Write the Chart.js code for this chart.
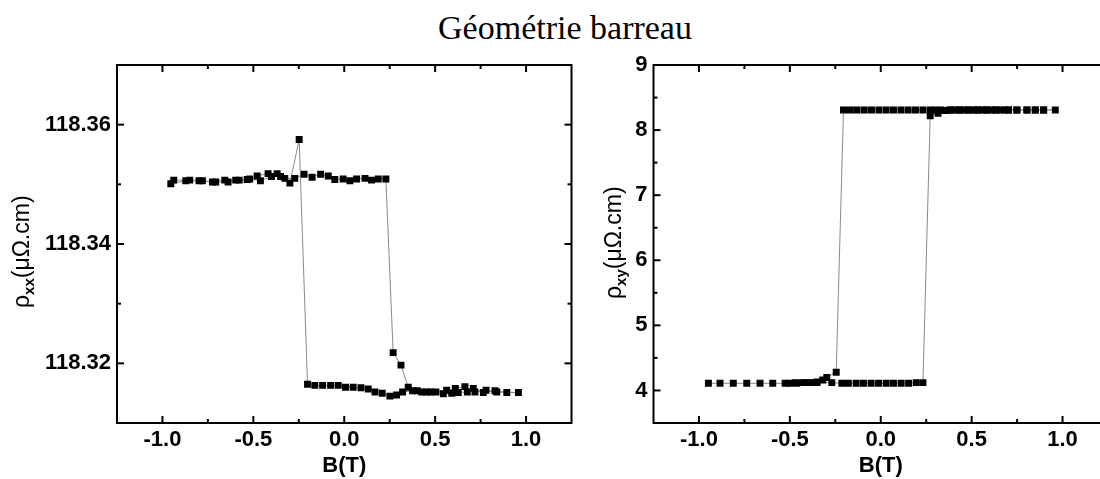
<!DOCTYPE html>
<html>
<head>
<meta charset="utf-8">
<script src="https://cdn.jsdelivr.net/npm/chart.js@4.4.1/dist/chart.umd.min.js"></script>
<style>
  html, body { margin: 0; padding: 0; background: #fff; overflow: hidden; width: 1100px; height: 479px; }
  #title { position: absolute; left: 0; top: 11px; width: 1130px; text-align: center;
           font: 34px/34px "Liberation Serif", "Times New Roman", serif; color: #000; }
  #cxx { position: absolute; left: 0; top: 0; }
  #cxy { position: absolute; left: 600px; top: 0; }
</style>
</head>
<body>
<div id="title">Géométrie barreau</div>
<canvas id="cxx" width="600" height="479"></canvas>
<canvas id="cxy" width="530" height="479"></canvas>
<script>
// rho_xx : sweep up (-1 -> +1) then back down, in acquisition order
const bXX = [
  -0.954, -0.872, -0.799, -0.725, -0.657, -0.597, -0.534, -0.479, -0.419, -0.369,
  -0.327, -0.272, -0.221, -0.177, -0.130, -0.088, -0.052, -0.006, 0.031, 0.068,
  0.114, 0.150, 0.187, 0.229, 0.269, 0.312, 0.352, 0.402, 0.453, 0.504,
  0.563, 0.611, 0.664, 0.719, 0.780, 0.839, 0.958,
  0.894, 0.829, 0.765, 0.710, 0.677, 0.627, 0.591, 0.545, 0.475, 0.426,
  0.376, 0.321, 0.288, 0.251, 0.209, 0.169, 0.132, 0.092, 0.049, 0.007,
  -0.033, -0.075, -0.119, -0.162, -0.202, -0.248, -0.299, -0.350, -0.400, -0.461,
  -0.520, -0.578, -0.639, -0.707, -0.780, -0.850, -0.938
];
const rhoXX = [
  118.3501, 118.3506, 118.3506, 118.3504, 118.3507, 118.3507, 118.3508, 118.3514, 118.3518, 118.3518,
  118.3510, 118.3510, 118.3517, 118.3512, 118.3517, 118.3514, 118.3508, 118.3509, 118.3506, 118.3509,
  118.3510, 118.3507, 118.3509, 118.3509, 118.3218, 118.3197, 118.3160, 118.3154, 118.3152, 118.3152,
  118.3155, 118.3158, 118.3161, 118.3152, 118.3155, 118.3152, 118.3151,
  118.3151, 118.3154, 118.3151, 118.3158, 118.3152, 118.3151, 118.3150, 118.3149, 118.3152, 118.3152,
  118.3154, 118.3152, 118.3147, 118.3145, 118.3150, 118.3152, 118.3157, 118.3159, 118.3160, 118.3160,
  118.3163, 118.3163, 118.3163, 118.3163, 118.3165, 118.3575, 118.3502, 118.3513, 118.3513, 118.3506,
  118.3509, 118.3507, 118.3504, 118.3504, 118.3506, 118.3507, 118.3507
];

// rho_xy : same sweep order
const bXY = [
  -0.948, -0.884, -0.811, -0.737, -0.664, -0.594, -0.526, -0.462, -0.416, -0.379,
  -0.352, -0.269, -0.214, -0.178, -0.135, -0.095, -0.053, -0.012, 0.030, 0.070,
  0.112, 0.153, 0.195, 0.232, 0.272, 0.315, 0.340, 0.360, 0.385, 0.410,
  0.435, 0.460, 0.485, 0.510, 0.535, 0.560, 0.585, 0.610, 0.635, 0.660,
  0.703, 0.749, 0.804, 0.850, 0.896, 0.960,
  0.896, 0.850, 0.804, 0.749, 0.703, 0.680, 0.630, 0.580, 0.530, 0.480,
  0.430, 0.380, 0.330, 0.300, 0.272, 0.232, 0.191, 0.151, 0.111, 0.070,
  0.030, -0.010, -0.051, -0.091, -0.131, -0.168, -0.205, -0.245, -0.297, -0.319,
  -0.350, -0.390, -0.430, -0.470, -0.500
];
const rhoXY = [
  4.11, 4.11, 4.11, 4.11, 4.11, 4.11, 4.11, 4.11, 4.12, 4.12,
  4.12, 4.12, 4.11, 4.11, 4.11, 4.11, 4.11, 4.11, 4.11, 4.11,
  4.11, 4.11, 4.12, 4.12, 8.22, 8.26, 8.30, 8.30, 8.31, 8.31,
  8.31, 8.31, 8.31, 8.31, 8.31, 8.31, 8.31, 8.31, 8.31, 8.31,
  8.31, 8.31, 8.31, 8.31, 8.31, 8.31,
  8.31, 8.31, 8.31, 8.31, 8.31, 8.31, 8.31, 8.31, 8.31, 8.31,
  8.31, 8.31, 8.31, 8.31, 8.31, 8.31, 8.31, 8.31, 8.31, 8.31,
  8.31, 8.31, 8.31, 8.31, 8.31, 8.31, 8.31, 4.28, 4.20, 4.16,
  4.13, 4.12, 4.12, 4.12, 4.11
];

// axes
const bMajor = [-1, -0.5, 0, 0.5, 1];
const bMinor = [-0.75, -0.25, 0.25, 0.75];
const xxMajor = [118.32, 118.34, 118.36];
const xxMinor = [118.33, 118.35, 118.37];
const xyMajor = [4, 5, 6, 7, 8, 9];
const xyMinor = [3.5, 4.5, 5.5, 6.5, 7.5, 8.5];

const tickFont = { family: '"Liberation Sans", Arial, sans-serif', weight: 'bold', size: 22 };

// frame with inward ticks + y title with subscript
const frame = {
  id: 'frame',
  afterDatasetsDraw(chart, args, opts) {
    const { ctx, chartArea: { left, right, top, bottom }, scales: { x, y } } = chart;
    ctx.save();
    ctx.strokeStyle = '#000';
    ctx.lineWidth = 2;
    const seg = (x0, y0, x1, y1) => { ctx.beginPath(); ctx.moveTo(x0, y0); ctx.lineTo(x1, y1); ctx.stroke(); };
    bMajor.forEach(v => { const p = x.getPixelForValue(v); seg(p, bottom, p, bottom - 7); seg(p, top, p, top + 7); });
    bMinor.forEach(v => { const p = x.getPixelForValue(v); seg(p, bottom, p, bottom - 4); seg(p, top, p, top + 4); });
    opts.yMajor.forEach(v => { const p = y.getPixelForValue(v); seg(left, p, left + 7, p); seg(right, p, right - 7, p); });
    opts.yMinor.forEach(v => { const p = y.getPixelForValue(v); seg(left, p, left + 4, p); seg(right, p, right - 4, p); });
    ctx.strokeRect(left, top, right - left, bottom - top);

    ctx.translate(opts.tx, opts.ty);
    ctx.rotate(-Math.PI / 2);
    ctx.fillStyle = '#000';
    ctx.textAlign = 'left';
    ctx.textBaseline = 'alphabetic';
    ctx.font = '23px "Liberation Sans", Arial, sans-serif';
    ctx.fillText('ρ', 0, 0);
    let w = ctx.measureText('ρ').width;
    ctx.font = 'bold 15px "Liberation Sans", Arial, sans-serif';
    ctx.fillText(opts.sub, w, 5);
    w += ctx.measureText(opts.sub).width;
    ctx.font = '23px "Liberation Sans", Arial, sans-serif';
    ctx.fillText('(μΩ.cm)', w, 0);
    ctx.restore();
  }
};

function makeChart(id, bs, vs, o) {
  return new Chart(document.getElementById(id), {
    type: 'scatter',
    data: {
      datasets: [{
        data: bs.map((b, i) => ({ x: b, y: vs[i] })),
        showLine: true,
        borderColor: '#8a8a8a',
        borderWidth: 1,
        tension: 0,
        pointStyle: 'rect',
        pointRadius: 4.9,
        pointHoverRadius: 4.9,
        pointBackgroundColor: '#000',
        pointBorderWidth: 0
      }]
    },
    options: {
      responsive: false,
      animation: false,
      devicePixelRatio: 1,
      layout: { padding: { top: 65, right: o.padRight, left: 0, bottom: 0 } },
      plugins: {
        legend: { display: false },
        tooltip: { enabled: false },
        frame: { yMajor: o.yMajor, yMinor: o.yMinor, sub: o.sub, tx: o.tx, ty: o.ty }
      },
      scales: {
        x: {
          type: 'linear', min: -1.25, max: 1.25,
          grid: { display: false, drawTicks: false },
          border: { display: false },
          afterBuildTicks: s => { s.ticks = bMajor.map(v => ({ value: v })); },
          afterFit: s => { s.height = 56; },
          ticks: { padding: 4, color: '#000', autoSkip: false, maxRotation: 0, font: tickFont,
                   callback: v => v.toFixed(1) },
          title: { display: true, text: 'B(T)', color: '#000', font: tickFont, padding: { top: 0, bottom: 0 } }
        },
        y: {
          type: 'linear', min: o.yMin, max: o.yMax,
          grid: { display: false, drawTicks: false },
          border: { display: false },
          afterBuildTicks: s => { s.ticks = o.yMajor.map(v => ({ value: v })); },
          afterFit: s => { s.width = o.yWidth; },
          ticks: { padding: 6, color: '#000', autoSkip: false, font: tickFont,
                   callback: v => v.toFixed(o.dec) }
        }
      }
    },
    plugins: [frame]
  });
}

makeChart('cxx', bXX, rhoXX, {
  yMin: 118.31, yMax: 118.37, yMajor: xxMajor, yMinor: xxMinor, dec: 2,
  yWidth: 117, padRight: 28.5, sub: 'xx', tx: 28.5, ty: 308
});
makeChart('cxy', bXY, rhoXY, {
  yMin: 3.5, yMax: 9, yMajor: xyMajor, yMinor: xyMinor, dec: 0,
  yWidth: 53.5, padRight: 22, sub: 'xy', tx: 20.5, ty: 299
});
</script>
</body>
</html>
